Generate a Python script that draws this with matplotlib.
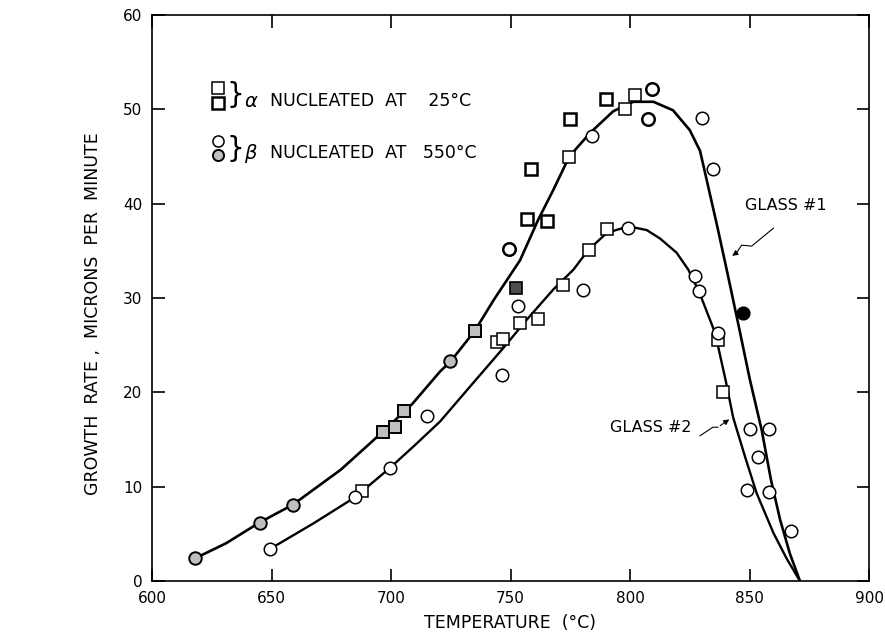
import matplotlib
matplotlib.use("Agg")
import matplotlib.pyplot as plt

# --- smooth curves (temperature degC, growth rate um/min) ---
g1_T = [618, 631, 645, 659, 679, 696.5, 709, 720.5, 725, 735, 743, 748.5, 754, 761.6, 768,
        774.6, 783.3, 793, 801.4, 809.8, 818, 825, 829.3, 832.1, 836.5, 840.8, 845.5, 850.2,
        855.1, 859, 862.8, 866.9, 871.1]
g1_Y = [2.4, 4.0, 6.2, 8.1, 11.8, 15.8, 18.8, 22.2, 23.3, 26.5, 29.8, 31.9, 34.0, 38.3, 41.5,
        45.0, 47.5, 49.8, 50.8, 50.8, 49.9, 47.8, 45.6, 42.5, 37.6, 32.6, 27.0, 21.3,
        16.0, 10.7, 6.5, 2.9, 0.0]
g2_T = [649.4, 667.5, 685.1, 699.6, 710, 720.5, 734.4, 747, 756.8, 767.9, 776.3, 782.6, 790.3,
        799.3, 807, 812.6, 819.5, 824.4, 829, 835.6, 840, 843.2, 848.1, 853, 860, 865.5, 871.1]
g2_Y = [3.4, 6.1, 8.9, 12.0, 14.4, 16.9, 21.0, 24.7, 27.7, 30.9, 33.0, 35.1, 36.9,
        37.6, 37.2, 36.3, 34.8, 33.0, 30.6, 26.3, 21.3, 17.3, 13.2, 9.3, 5.1, 2.4, 0.0]

# --- measured points ---
sq_open_T = [798.0, 802.2, 774.6, 772.1, 782.7, 790.3, 754.0, 761.6, 744.5, 746.7, 687.7, 838.8, 837.0]
sq_open_Y = [50.0, 51.5, 45.0, 31.4, 35.1, 37.3, 27.4, 27.8, 25.3, 25.7, 9.5, 20.0, 25.6]
sq_bold_T = [789.8, 774.8, 758.5, 756.8, 765.1]
sq_bold_Y = [51.1, 49.0, 43.7, 38.4, 38.2]
sq_gray_T = [735.1, 696.5, 701.7, 705.4]
sq_gray_Y = [26.5, 15.8, 16.3, 18.0]
sq_dark_T = [752.3]
sq_dark_Y = [31.1]

ci_open_T = [830.1, 784.2, 834.9, 753.3, 780.2, 799.3, 827.3, 829.0, 837.0, 850.2, 858.2,
             853.6, 849.1, 858.2, 867.4, 746.4, 715.2, 699.6, 685.1, 649.4]
ci_open_Y = [49.1, 47.2, 43.7, 29.1, 30.9, 37.4, 32.3, 30.7, 26.3, 16.1, 16.1,
             13.1, 9.6, 9.4, 5.3, 21.8, 17.5, 12.0, 8.9, 3.4]
ci_bold_T = [809.3, 807.4, 749.5]
ci_bold_Y = [52.2, 49.0, 35.2]
ci_gray_T = [618.1, 645.3, 658.9, 724.7]
ci_gray_Y = [2.4, 6.2, 8.1, 23.3]
ci_dark_T = [847.4]
ci_dark_Y = [28.4]

xticks = [600, 650, 700, 750, 800, 850, 900]
yticks = [0, 10, 20, 30, 40, 50, 60]

fig = plt.figure(figsize=(8.85, 6.34), dpi=100)
ax = fig.add_axes([152 / 885, 1 - 581 / 634, 717 / 885, 566 / 634])

ax.plot(g1_T, g1_Y, color="black", lw=1.9, zorder=2)
ax.plot(g2_T, g2_Y, color="black", lw=1.7, zorder=2)

ms = 9
ax.plot(sq_open_T, sq_open_Y, "s", ms=ms, mfc="white", mec="black", mew=1.1, ls="none", zorder=3)
ax.plot(sq_bold_T, sq_bold_Y, "s", ms=ms, mfc="white", mec="black", mew=1.8, ls="none", zorder=3)
ax.plot(sq_gray_T, sq_gray_Y, "s", ms=ms, mfc="0.75", mec="black", mew=1.4, ls="none", zorder=3)
ax.plot(sq_dark_T, sq_dark_Y, "s", ms=ms - 1, mfc="0.3", mec="black", mew=1.2, ls="none", zorder=3)
ax.plot(ci_open_T, ci_open_Y, "o", ms=ms, mfc="white", mec="black", mew=1.1, ls="none", zorder=3)
ax.plot(ci_bold_T, ci_bold_Y, "o", ms=ms, mfc="white", mec="black", mew=1.8, ls="none", zorder=3)
ax.plot(ci_gray_T, ci_gray_Y, "o", ms=ms, mfc="0.75", mec="black", mew=1.4, ls="none", zorder=3)
ax.plot(ci_dark_T, ci_dark_Y, "o", ms=ms, mfc="black", mec="black", mew=1.2, ls="none", zorder=3)

ax.set_xlim(600, 900)
ax.set_ylim(0, 60)
ax.set_xticks(xticks)
ax.set_yticks(yticks)
ax.tick_params(direction="in", length=9, width=1.2, top=True, right=True,
               labelsize=11, pad=7)
for s in ax.spines.values():
    s.set_linewidth(1.2)

ax.set_xlabel("TEMPERATURE  (°C)", fontsize=12.5)
ax.set_ylabel("GROWTH  RATE ,  MICRONS  PER  MINUTE", fontsize=12.5)
ax.xaxis.set_label_coords(0.5, -0.058)
ax.yaxis.set_label_coords(-0.07, 0.473)

# legend drawn by hand, like the original
tr = ax.transAxes
ax.plot([0.092], [0.871], "s", ms=8, mfc="white", mec="black", mew=1.1, transform=tr, clip_on=False)
ax.plot([0.092], [0.845], "s", ms=8, mfc="white", mec="black", mew=1.8, transform=tr, clip_on=False)
ax.plot([0.092], [0.777], "o", ms=8, mfc="white", mec="black", mew=1.1, transform=tr, clip_on=False)
ax.plot([0.092], [0.752], "o", ms=8, mfc="0.75", mec="black", mew=1.4, transform=tr, clip_on=False)
ax.text(0.104, 0.858, "}", fontsize=20, va="center", ha="left", transform=tr)
ax.text(0.104, 0.764, "}", fontsize=20, va="center", ha="left", transform=tr)
ax.text(0.128, 0.848, r"$\alpha$", fontsize=14, va="center", ha="left", transform=tr)
ax.text(0.128, 0.756, r"$\beta$", fontsize=14, va="center", ha="left", transform=tr)
ax.text(0.165, 0.848, "NUCLEATED  AT    25°C", fontsize=12.5, va="center", ha="left", transform=tr)
ax.text(0.165, 0.756, "NUCLEATED  AT   550°C", fontsize=12.5, va="center", ha="left", transform=tr)

# curve labels with squiggly leaders
ax.text(848.1, 39.8, "GLASS #1", fontsize=11.5, va="center", ha="left")
ax.plot([860.0, 850.9, 846.7, 844.6], [37.4, 35.5, 35.6, 34.8], color="black", lw=0.8)
ax.annotate("", xy=(841.8, 34.3), xytext=(844.6, 34.8),
            arrowprops=dict(arrowstyle="-|>", color="black", lw=0.8, mutation_scale=8))
ax.text(791.6, 16.3, "GLASS #2", fontsize=11.5, va="center", ha="left")
ax.plot([829.3, 834.7, 836.8], [15.4, 16.3, 16.3], color="black", lw=0.8)
ax.annotate("", xy=(842.5, 17.3), xytext=(836.8, 16.3),
            arrowprops=dict(arrowstyle="-|>", color="black", lw=0.8, mutation_scale=8))

fig.savefig("out.png", dpi=100)
